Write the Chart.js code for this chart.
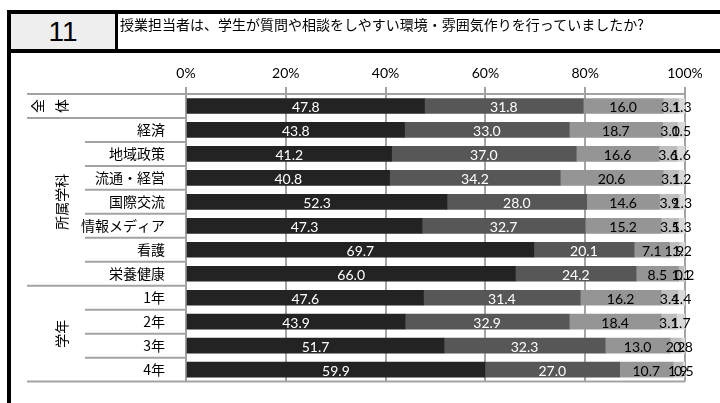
<!DOCTYPE html>
<html lang="ja">
<head>
<meta charset="UTF-8" />
<title>授業担当者 11</title>
<script src="https://cdn.jsdelivr.net/npm/chart.js@4.4.1/dist/chart.umd.min.js"></script>
<style>
  body { margin: 0; background: #fff; }
  #wrap { position: relative; width: 720px; height: 403px; overflow: hidden; }
  #myChart { position: absolute; left: 0; top: 0; }
  .line { position: absolute; background: #000; }
  #num { position: absolute; left: 11px; top: 14px; width: 104px; height: 35px; background: #eeeeee;
         font: normal 28px 'Liberation Sans Narrow', 'Liberation Sans', sans-serif; text-align: center; line-height: 36px; }
  #question { position: absolute; left: 120px; top: 14px; height: 35px; line-height: 35px;
              font: 14px 'Noto Sans CJK JP', sans-serif; white-space: nowrap; }
</style>
</head>
<body>
<div id="wrap">
  <canvas id="myChart" width="720" height="403"></canvas>
  <div id="num">11</div>
  <div id="question">授業担当者は、学生が質問や相談をしやすい環境・雰囲気作りを行っていましたか?</div>
  <div class="line" style="left:7px;top:10px;width:713px;height:4px"></div>
  <div class="line" style="left:7px;top:49px;width:713px;height:4px"></div>
  <div class="line" style="left:115px;top:10px;width:3px;height:42px"></div>
  <div class="line" style="left:7px;top:10px;width:4px;height:393px"></div>
</div>
<script>
// rows, top to bottom
const categories = ['全体', '経済', '地域政策', '流通・経営', '国際交流', '情報メディア', '看護', '栄養健康', '1年', '2年', '3年', '4年'];
const xTicks = [0, 20, 40, 60, 80, 100];

// percentages per answer (from most positive to least)
const s1 = [47.8, 43.8, 41.2, 40.8, 52.3, 47.3, 69.7, 66.0, 47.6, 43.9, 51.7, 59.9];
const s2 = [31.8, 33.0, 37.0, 34.2, 28.0, 32.7, 20.1, 24.2, 31.4, 32.9, 32.3, 27.0];
const s3 = [16.0, 18.7, 16.6, 20.6, 14.6, 15.2, 7.1, 8.5, 16.2, 18.4, 13.0, 10.7];
const s4 = [3.1, 3.0, 3.6, 3.1, 3.9, 3.5, 1.9, 1.1, 3.4, 3.1, 2.2, 1.9];
const s5 = [1.3, 1.5, 1.6, 1.2, 1.3, 1.3, 1.2, 0.2, 1.4, 1.7, 0.8, 0.5];

const groups = [
  { label: '所属学科', from: 1, to: 7 },
  { label: '学年', from: 8, to: 11 }
];

const colors = ['#232323', '#575757', '#959595', '#bdbdbd', '#d9d9d9'];
const labelColors = ['#fff', '#fff', '#000', '#000', '#000'];
const GRID = '#a3a3a3';
const JP = "'Noto Sans CJK JP', sans-serif";

// numbers in the bars
const barLabels = {
  id: 'barLabels',
  afterDatasetsDraw(chart) {
    const ctx = chart.ctx;
    ctx.save();
    ctx.font = '14px Lato, sans-serif';
    ctx.textAlign = 'center';
    ctx.textBaseline = 'middle';
    chart.data.datasets.forEach((ds, i) => {
      const meta = chart.getDatasetMeta(i);
      ctx.fillStyle = labelColors[i];
      meta.data.forEach((bar, j) => {
        const x = (bar.x + bar.base) / 2;
        ctx.fillText(ds.data[j].toFixed(1), x, bar.y + 2);
      });
    });
    ctx.restore();
  }
};

// table lines and group labels on the left
const sideTable = {
  id: 'sideTable',
  afterDraw(chart) {
    const ctx = chart.ctx;
    const a = chart.chartArea;
    const n = categories.length;
    const rowH = (a.bottom - a.top) / n;
    const outer = [0, 1, 8, 12];
    ctx.save();
    ctx.strokeStyle = GRID;
    ctx.lineWidth = 2;
    for (let k = 0; k <= n; k++) {
      const y = a.top + k * rowH;
      const x0 = outer.includes(k) ? 27 : 85;
      const x1 = k === n ? a.right : a.left;
      ctx.beginPath();
      ctx.moveTo(x0, y);
      ctx.lineTo(x1, y);
      ctx.stroke();
    }

    ctx.fillStyle = '#000';
    ctx.font = '14px ' + JP;
    ctx.textAlign = 'center';
    ctx.textBaseline = 'middle';
    // 全 体, glyphs turned on their side
    const y0 = a.top + rowH / 2;
    [[categories[0][0], 38], [categories[0][1], 62]].forEach(([ch, x]) => {
      ctx.save();
      ctx.translate(x, y0);
      ctx.rotate(-Math.PI / 2);
      ctx.fillText(ch, 0, 0);
      ctx.restore();
    });
    groups.forEach(g => {
      const yc = a.top + ((g.from + g.to + 1) / 2) * rowH;
      ctx.save();
      ctx.translate(62, yc);
      ctx.rotate(-Math.PI / 2);
      ctx.fillText(g.label, 0, 0);
      ctx.restore();
    });
    ctx.restore();
  }
};

const ctx = document.getElementById('myChart').getContext('2d');
const myChart = new Chart(ctx, {
  type: 'bar',
  data: {
    labels: categories,
    datasets: [s1, s2, s3, s4, s5].map((d, i) => ({
      data: d,
      backgroundColor: colors[i],
      borderWidth: 0,
      barThickness: 15
    }))
  },
  options: {
    indexAxis: 'y',
    responsive: false,
    animation: false,
    devicePixelRatio: 1,
    layout: { padding: { left: 0, top: 55, right: 35, bottom: 20 } },
    plugins: { legend: { display: false }, tooltip: { enabled: false } },
    scales: {
      x: {
        position: 'top',
        stacked: true,
        min: 0,
        max: 100,
        afterBuildTicks: s => { s.ticks = xTicks.map(v => ({ value: v })); },
        afterFit: s => { s.height = 39; },
        ticks: {
          callback: v => v + '%',
          color: '#000',
          font: { family: 'Lato, sans-serif', size: 14 },
          padding: 5,
          maxRotation: 0
        },
        grid: { color: GRID, lineWidth: 2, tickLength: 7 },
        border: { color: GRID, width: 2 }
      },
      y: {
        stacked: true,
        afterFit: s => { s.width = 186; },
        ticks: {
          callback: (v, i) => i === 0 ? '' : categories[i],
          color: '#000',
          font: { family: JP, size: 14 },
          padding: 13
        },
        grid: { display: false },
        border: { color: GRID, width: 2 }
      }
    }
  },
  plugins: [barLabels, sideTable]
});
</script>
</body>
</html>
